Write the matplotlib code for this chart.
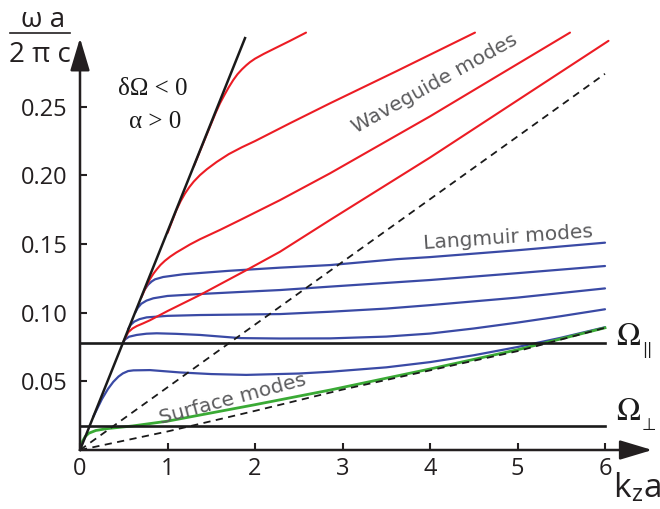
import matplotlib.pyplot as plt
from matplotlib.lines import Line2D

# light line and asymptotes
light_x = [0, 1.886]
light_y = [0, 0.30]
dash_hi_x = [0, 6.0]
dash_hi_y = [0, 0.274]
dash_lo_x = [0, 1, 2, 3, 4, 5, 6]
dash_lo_y = [0, 0.0135, 0.0285, 0.044, 0.058, 0.072, 0.089]
omega_par = 0.0782
omega_perp = 0.0172

# waveguide modes (red)
red_modes = [
    ([1.3, 1.45, 1.55, 1.6, 1.65, 1.7, 1.752, 1.8, 1.85, 1.9, 1.943, 2.0, 2.1, 2.21, 2.4, 2.583],
     [0.2065, 0.2300, 0.2455, 0.2525, 0.2585, 0.2642, 0.2695, 0.2737, 0.2772, 0.2802, 0.2825,
      0.2850, 0.2885, 0.2920, 0.2980, 0.3040]),
    ([1.0, 1.1, 1.15, 1.2, 1.25, 1.3, 1.371, 1.45, 1.562, 1.7, 1.85, 2.0, 2.4, 2.857, 3.62, 4.514],
     [0.158, 0.1745, 0.1812, 0.1868, 0.1915, 0.1955, 0.2002, 0.2045, 0.2098, 0.2155, 0.2205,
      0.2250, 0.2380, 0.2525, 0.2760, 0.3040]),
    ([0.7, 0.76, 0.8, 0.84, 0.88, 0.92, 0.97, 1.03, 1.1, 1.18, 1.257, 1.371, 1.6, 1.83, 2.286,
      2.857, 4.0, 4.76, 5.6],
     [0.111, 0.1195, 0.1245, 0.1285, 0.1318, 0.1348, 0.1378, 0.1408, 0.1438, 0.1468, 0.1497,
      0.1535, 0.1603, 0.1675, 0.1820, 0.2015, 0.2430, 0.2720, 0.3040]),
    ([0.5, 0.552, 0.6, 0.65, 0.72, 0.8, 1.0, 1.371, 1.905, 2.286, 2.857, 4.0, 5.14, 6.04],
     [0.0795, 0.0858, 0.0885, 0.0903, 0.0922, 0.0945, 0.1012, 0.1129, 0.1311, 0.1444, 0.1675,
      0.2130, 0.2605, 0.2980]),
]

# Langmuir modes (blue)
blue_modes = [
    ([0.74, 0.78, 0.82, 0.857, 0.95, 1.18, 1.7, 2.286, 2.86, 3.62, 4.0, 5.0, 6.0],
     [0.117, 0.1205, 0.1228, 0.1243, 0.126, 0.128, 0.1305, 0.1328, 0.1347, 0.139, 0.1405, 0.1455, 0.151]),
    ([0.63, 0.66, 0.7, 0.76, 0.838, 1.0, 1.371, 1.8, 2.286, 2.86, 4.0, 5.0, 6.0],
     [0.100, 0.1035, 0.1065, 0.1088, 0.1105, 0.1122, 0.1136, 0.115, 0.1165, 0.119, 0.1238, 0.1288, 0.134]),
    ([0.55, 0.58, 0.62, 0.68, 0.762, 1.0, 1.371, 2.286, 2.86, 3.5, 4.0, 5.0, 6.0],
     [0.088, 0.0912, 0.0935, 0.0953, 0.0966, 0.0977, 0.0983, 0.099, 0.1007, 0.103, 0.1055, 0.111, 0.1177]),
    ([0.49, 0.514, 0.56, 0.648, 0.76, 0.876, 1.1, 1.371, 1.83, 2.286, 2.86, 3.5, 4.0, 4.5, 5.0, 5.5, 6.0],
     [0.078, 0.0805, 0.0825, 0.0838, 0.0847, 0.085, 0.0846, 0.0838, 0.0815, 0.0812, 0.0813, 0.0826,
      0.0848, 0.0885, 0.0928, 0.0975, 0.1025]),
    ([0.15, 0.25, 0.32, 0.38, 0.44, 0.49, 0.55, 0.61, 0.8, 1.14, 1.5, 1.9, 2.5, 2.86, 3.5, 4.0, 4.5,
      5.0, 5.5, 6.0],
     [0.024, 0.037, 0.0445, 0.0496, 0.0535, 0.0558, 0.0575, 0.058, 0.0582, 0.0565, 0.0553, 0.0547,
      0.0557, 0.057, 0.0602, 0.064, 0.069, 0.075, 0.0818, 0.0894]),
]

# surface mode (green)
green_x = [0, 0.03, 0.06, 0.1, 0.18, 0.3, 0.6, 1.0, 1.5, 2.0, 2.86, 4.0, 5.0, 6.0]
green_y = [0, 0.0065, 0.0098, 0.0122, 0.0142, 0.0155, 0.0175, 0.021, 0.027, 0.033, 0.0437, 0.059, 0.073, 0.089]

xticks = [0, 1, 2, 3, 4, 5, 6]
yticks = [0.05, 0.10, 0.15, 0.20, 0.25]
ytick_labels = ["0.05", "0.10", "0.15", "0.20", "0.25"]

RED = "#ec1c24"
BLUE = "#3a4aa5"
GREEN = "#3aaa35"
INK = "#1a1a1a"
GRAY = "#5b5b5d"

W, H = 660, 509
plt.rcParams["mathtext.fontset"] = "stix"
fig = plt.figure(figsize=(W / 100, H / 100), dpi=100)
ax = fig.add_axes([80 / W, 59 / H, 6.6 * 87.5 / W, 0.31 * 1373 / H])
ax.set_xlim(0, 6.6)
ax.set_ylim(0, 0.31)
for s in ax.spines.values():
    s.set_visible(False)

for xs, ys in blue_modes:
    ax.plot(xs, ys, color=BLUE, lw=1.6, zorder=3, solid_capstyle="round", solid_joinstyle="round")
ax.plot(green_x, green_y, color=GREEN, lw=2.0, zorder=3, solid_joinstyle="round")
for xs, ys in red_modes:
    ax.plot(xs, ys, color=RED, lw=1.5, zorder=4, solid_capstyle="round", solid_joinstyle="round")

ax.plot(dash_hi_x, dash_hi_y, color=INK, lw=1.3, dashes=[4, 3], zorder=5)
ax.plot(dash_lo_x, dash_lo_y, color=INK, lw=1.3, dashes=[4, 3], zorder=5)
ax.plot([0, 6.0], [omega_par, omega_par], color=INK, lw=1.9, zorder=5)
ax.plot([0, 6.0], [omega_perp, omega_perp], color=INK, lw=1.9, zorder=5)
ax.plot(light_x, light_y, color=INK, lw=1.8, zorder=6, clip_on=False)

# axes drawn as arrows
arrow = dict(arrowstyle="-|>,head_length=2.0,head_width=0.6", lw=1.8,
             color="#231f20", shrinkA=0, shrinkB=0, mutation_scale=10)
ax.annotate("", xy=(6.54, 0), xytext=(0, 0), arrowprops=arrow, annotation_clip=False, zorder=7)
ax.annotate("", xy=(0, 0.300), xytext=(0, 0), arrowprops=arrow, annotation_clip=False, zorder=7)

ax.set_xticks(xticks)
ax.set_yticks(yticks)
ax.set_yticklabels(ytick_labels)
ax.tick_params(direction="in", length=5, width=1.5, color="#231f20",
               labelsize=17, labelcolor="#231f20")
ax.tick_params(axis="y", pad=9)
ax.tick_params(axis="x", pad=5)
for lab in ax.get_xticklabels() + ax.get_yticklabels():
    lab.set_family("Open Sans")

# labels in the plot
ax.text(4.05, 0.2666, "Waveguide modes", rotation=29, color=GRAY, fontsize=14.5,
        ha="center", va="center", rotation_mode="anchor")
ax.text(4.89, 0.1544, "Langmuir modes", rotation=4, color=GRAY, fontsize=14.5,
        ha="center", va="center", rotation_mode="anchor")
ax.text(1.74, 0.0371, "Surface modes", rotation=15, color=GRAY, fontsize=14.5,
        ha="center", va="center", rotation_mode="anchor")
ax.text(0.834, 0.2586, "δΩ < 0", family="Liberation Serif", fontsize=18,
        ha="center", va="baseline", color=INK)
ax.text(0.86, 0.2345, "α > 0", family="Liberation Serif", fontsize=18,
        ha="center", va="baseline", color=INK)

ax.text(6.125, 0.0765, r"$\Omega$", fontsize=23, ha="left", va="baseline",
        color=INK, clip_on=False)
ax.text(6.42, 0.0787, "||", family="DejaVu Sans", fontsize=11, ha="left", va="top",
        color=INK, clip_on=False)
ax.text(6.125, 0.0219, r"$\Omega$", fontsize=23, ha="left", va="baseline",
        color=INK, clip_on=False)
ax.text(6.415, 0.0146, "⊥", family="DejaVu Sans", fontsize=12, ha="left", va="baseline",
        color=INK, clip_on=False)

# axis titles
fig.text(43 / W, 1 - 27 / H, "ω a", family="Open Sans", fontsize=20,
         ha="center", va="baseline", color="#231f20")
fig.text(40 / W, 1 - 62 / H, "2 π c", family="Open Sans", fontsize=20,
         ha="center", va="baseline", color="#231f20")
fig.add_artist(Line2D([10 / W, 70 / W], [1 - 33 / H, 1 - 33 / H], lw=1.2,
                      color="#231f20", transform=fig.transFigure))
fig.text(613 / W, 1 - 498 / H, r"k$_\mathregular{z}$a", family="Open Sans", fontsize=24,
         ha="left", va="baseline", color="#231f20")

fig.savefig("out.png", dpi=100)
